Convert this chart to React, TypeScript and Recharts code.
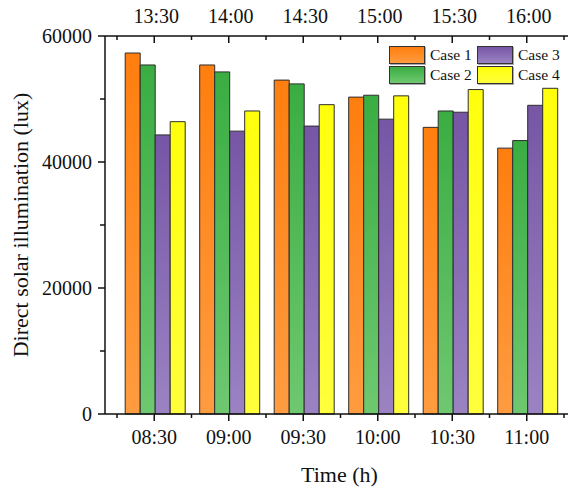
import type { FC } from 'react'
import { Bar, BarChart, Label, Legend, XAxis, YAxis } from 'recharts'

const morningTimes = ['08:30', '09:00', '09:30', '10:00', '10:30', '11:00']
const afternoonTimes = ['13:30', '14:00', '14:30', '15:00', '15:30', '16:00']

const case1 = [57300, 55400, 53000, 50300, 45500, 42200]
const case2 = [55400, 54300, 52400, 50600, 48100, 43400]
const case3 = [44300, 44900, 45700, 46800, 47900, 49000]
const case4 = [46400, 48100, 49100, 50500, 51500, 51700]

const yTicks = [0, 10000, 20000, 30000, 40000, 50000, 60000]

const data = morningTimes.map((t, i) => ({
  time: t,
  top: afternoonTimes[i],
  case1: case1[i],
  case2: case2[i],
  case3: case3[i],
  case4: case4[i],
}))

const series = [
  { key: 'case1', name: 'Case 1', top: '#FF7E0E', bottom: '#FF9C40' },
  { key: 'case2', name: 'Case 2', top: '#3AAD42', bottom: '#6EC870' },
  { key: 'case3', name: 'Case 3', top: '#7656A5', bottom: '#9B83C3' },
  { key: 'case4', name: 'Case 4', top: '#FFFF0C', bottom: '#FFFF3C' },
]

const FONT = '"Liberation Serif", "Times New Roman", serif'
const INK = '#111'

// bottom axis: outward ticks, plus minor ticks on the band edges
const BottomTick = (props: any) => {
  const { x, y, payload, index, visibleTicksCount } = props
  const half = payload?.offset ?? 0
  const last = index === visibleTicksCount - 1
  return (
    <g>
      <line x1={x} x2={x} y1={y} y2={y + 7} stroke={INK} strokeWidth={1.5} />
      {half > 0 && <line x1={x - half} x2={x - half} y1={y} y2={y + 4} stroke={INK} strokeWidth={1.5} />}
      {half > 0 && last && <line x1={x + half} x2={x + half} y1={y} y2={y + 4} stroke={INK} strokeWidth={1.5} />}
      <text x={x} y={y + 30} textAnchor="middle" fontFamily={FONT} fontSize={20} fill={INK}>
        {payload.value}
      </text>
    </g>
  )
}

// top axis: ticks point into the plot, labels sit above
const TopTick = (props: any) => {
  const { x, y, payload, index, visibleTicksCount } = props
  const half = payload?.offset ?? 0
  const last = index === visibleTicksCount - 1
  return (
    <g>
      <line x1={x} x2={x} y1={y} y2={y + 7} stroke={INK} strokeWidth={1.5} />
      {half > 0 && <line x1={x - half} x2={x - half} y1={y} y2={y + 4} stroke={INK} strokeWidth={1.5} />}
      {half > 0 && last && <line x1={x + half} x2={x + half} y1={y} y2={y + 4} stroke={INK} strokeWidth={1.5} />}
      <text x={x + 2} y={y - 13} textAnchor="middle" fontFamily={FONT} fontSize={20} fill={INK}>
        {payload.value}
      </text>
    </g>
  )
}

const LeftTick = (props: any) => {
  const { x, y, payload } = props
  const major = payload.value % 20000 === 0
  return (
    <g>
      <line x1={x - (major ? 7 : 5)} x2={x} y1={y} y2={y} stroke={INK} strokeWidth={1.5} />
      {major && (
        <text x={x - 13} y={y} dy="0.35em" textAnchor="end" fontFamily={FONT} fontSize={20} fill={INK}>
          {payload.value}
        </text>
      )}
    </g>
  )
}

const CaseLegend = (props: any) => {
  const items = props.payload ?? []
  return (
    <div
      style={{
        display: 'grid',
        gridTemplateRows: '17px 17px',
        gridAutoFlow: 'column',
        gridTemplateColumns: '88px 90px',
        rowGap: 3,
        width: 178,
      }}
    >
      {items.map((item: any) => {
        const s = series.find(d => d.key === item.dataKey)
        return (
          <div key={item.value} style={{ display: 'flex', alignItems: 'center', whiteSpace: 'nowrap' }}>
            <span
              style={{
                display: 'inline-block',
                width: 34,
                height: 16,
                border: '1px solid #333',
                boxShadow: '1px 1px 0 #aaa',
                background: s ? `linear-gradient(${s.top}, ${s.bottom})` : item.color,
              }}
            />
            <span style={{ marginLeft: 5, fontFamily: FONT, fontSize: 15.5, color: INK, lineHeight: '17px' }}>
              {item.value}
            </span>
          </div>
        )
      })}
    </div>
  )
}

const IlluminationChart: FC = () => (
  <div style={{ position: 'absolute', left: 0, top: 0, background: '#fff' }}>
    <BarChart
      width={569}
      height={488}
      data={data}
      margin={{ top: 0, right: 1, left: 0, bottom: 0 }}
      barCategoryGap="11%"
      barGap={0}
    >
      <defs>
        {series.map(s => (
          <linearGradient key={s.key} id={`grad-${s.key}`} x1="0" y1="0" x2="0" y2="1">
            <stop offset="0%" stopColor={s.top} />
            <stop offset="100%" stopColor={s.bottom} />
          </linearGradient>
        ))}
      </defs>
      <XAxis
        dataKey="time"
        xAxisId="bottom"
        height={74}
        padding={{ left: 12, right: 4 }}
        tickSize={0}
        tickMargin={0}
        tickLine={false}
        tick={<BottomTick />}
        interval={0}
        axisLine={{ stroke: INK, strokeWidth: 1.5 }}
      >
        <Label
          content={({ viewBox }: any) => (
            <text
              x={viewBox.x + viewBox.width / 2 + 3}
              y={viewBox.y + 68}
              textAnchor="middle"
              fontFamily={FONT}
              fontSize={22}
              fill={INK}
            >
              Time (h)
            </text>
          )}
        />
      </XAxis>
      <XAxis
        dataKey="top"
        xAxisId="top"
        orientation="top"
        height={36}
        padding={{ left: 12, right: 4 }}
        tickSize={0}
        tickMargin={0}
        tickLine={false}
        tick={<TopTick />}
        interval={0}
        axisLine={{ stroke: INK, strokeWidth: 1.5 }}
      />
      <YAxis
        width={105}
        domain={[0, 60000]}
        ticks={yTicks}
        interval={0}
        tickSize={0}
        tickMargin={0}
        tickLine={false}
        tick={<LeftTick />}
        axisLine={{ stroke: INK, strokeWidth: 1.5 }}
      >
        <Label
          content={({ viewBox }: any) => {
            const cx = viewBox.x + 28
            const cy = viewBox.y + viewBox.height / 2
            return (
              <text
                x={cx}
                y={cy}
                transform={`rotate(-90 ${cx} ${cy})`}
                textAnchor="middle"
                fontFamily={FONT}
                fontSize={22}
                fill={INK}
              >
                Direct solar illumination (lux)
              </text>
            )
          }}
        />
      </YAxis>
      <Legend
        content={<CaseLegend />}
        wrapperStyle={{ left: 389, top: 46, width: 0, height: 0, overflow: 'visible' }}
      />
      {series.map(s => (
        <Bar
          key={s.key}
          dataKey={s.key}
          name={s.name}
          xAxisId="bottom"
          fill={`url(#grad-${s.key})`}
          stroke="#2e2e2e"
          strokeWidth={1}
          isAnimationActive={false}
        />
      ))}
    </BarChart>
  </div>
)

export default function App() {
  return <IlluminationChart />
}
